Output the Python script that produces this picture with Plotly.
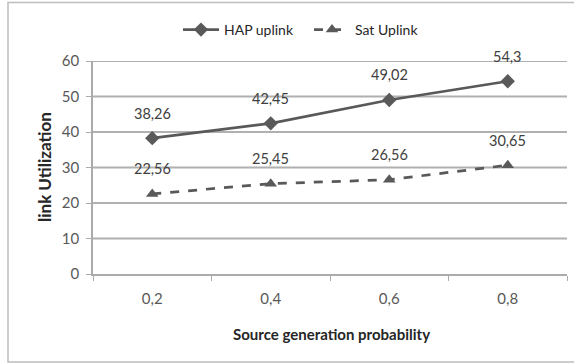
import plotly.graph_objects as go

# Source generation probability categories
categories = ["0,2", "0,4", "0,6", "0,8"]
hap_uplink = [38.26, 42.45, 49.02, 54.3]
sat_uplink = [22.56, 25.45, 26.56, 30.65]
y_ticks = [0, 10, 20, 30, 40, 50, 60]


def fmt(v):
    s = f"{v:.2f}".rstrip("0").rstrip(".")
    return s.replace(".", ",")


line_color = "#595959"
text_color = "#404040"
grid_color = "#B0B0B0"
font_family = "Lato, 'Liberation Sans', sans-serif"

fig = go.Figure()

fig.add_trace(go.Scatter(
    x=categories, y=hap_uplink, name="HAP uplink",
    mode="lines+markers",
    line=dict(color=line_color, width=2.75),
    marker=dict(symbol="diamond", size=11, color=line_color),
))

fig.add_trace(go.Scatter(
    x=categories, y=sat_uplink, name="Sat Uplink",
    mode="lines+markers",
    line=dict(color=line_color, width=2.75, dash="dash"),
    marker=dict(symbol="triangle-up", size=11, color=line_color),
))

# horizontal gridlines at each y tick, beneath the series
for t in y_ticks[1:]:
    fig.add_shape(
        type="line", xref="paper", yref="y", x0=0, x1=1, y0=t, y1=t,
        line=dict(color=grid_color, width=2), layer="below",
    )

# value labels above each point
for series in (hap_uplink, sat_uplink):
    for c, v in zip(categories, series):
        fig.add_annotation(
            text=fmt(v), x=c, y=v, xref="x", yref="y",
            showarrow=False, yshift=25, xanchor="center", yanchor="middle",
            font=dict(size=14.5, color=text_color, family=font_family),
        )

# plot area spans 474 x 213 px; outer chart border in paper units
pw, ph = 474.0, 213.0
fig.add_shape(
    type="rect", xref="paper", yref="paper",
    x0=(8 - 93) / pw, x1=1 + (580 - 567) / pw,
    y0=-(362 - 274) / ph, y1=1 + (61 - 2.5) / ph,
    line=dict(color="#BDBDBD", width=1.5), fillcolor="rgba(0,0,0,0)",
)

fig.add_annotation(
    text="<b>link Utilization</b>", xref="paper", yref="paper",
    x=(44 - 93) / pw, y=(274 - 167) / ph, textangle=-90,
    showarrow=False, xanchor="center", yanchor="middle",
    font=dict(size=17, color="#262626", family=font_family),
)
fig.add_annotation(
    text="<b>Source generation probability</b>", xref="paper", yref="paper",
    x=(331 - 93) / pw, y=-(334 - 274) / ph,
    showarrow=False, xanchor="center", yanchor="middle",
    font=dict(size=15, color="#262626", family=font_family),
)

fig.update_layout(
    width=574, height=364,
    margin=dict(l=93, r=7, t=61, b=90),
    paper_bgcolor="white", plot_bgcolor="white",
    font=dict(family=font_family, size=13, color=line_color),
    showlegend=True,
    legend=dict(
        orientation="h", x=(178 - 93) / pw, y=1 + (61 - 14) / ph,
        xanchor="left", yanchor="top",
        font=dict(size=14, color="#262626", family=font_family),
        itemwidth=36, entrywidth=80, entrywidthmode="pixels",
        bgcolor="rgba(0,0,0,0)",
    ),
    xaxis=dict(
        type="category", range=[-0.5, 3.5],
        showline=True, linecolor="#ABABAB", linewidth=1.5,
        ticks="outside", ticklen=5, tickcolor="#ABABAB",
        tickson="boundaries", ticklabelstandoff=10,
        tickfont=dict(size=15, color=line_color, family=font_family),
        showgrid=False, zeroline=False,
    ),
    yaxis=dict(
        range=[0, 60], tickmode="array", tickvals=y_ticks,
        showline=True, linecolor="#ABABAB", linewidth=1.5,
        ticks="outside", ticklen=5, tickcolor="#ABABAB",
        showgrid=False, zeroline=False, ticklabelstandoff=4,
        tickfont=dict(size=15, color=line_color, family=font_family),
    ),
)

fig.write_html("out.html")
